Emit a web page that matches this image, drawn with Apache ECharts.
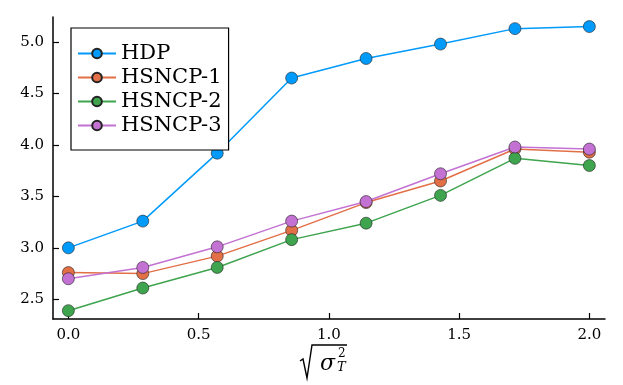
<!DOCTYPE html>
<html>
<head>
<meta charset="utf-8">
<script src="https://cdn.jsdelivr.net/npm/echarts@6/dist/echarts.min.js"></script>
<style>
  html, body { margin: 0; padding: 0; background: #fff; }
  #main { width: 623px; height: 385px; }
</style>
</head>
<body>
<div id="main"></div>
<script>
// x values: sqrt(sigma_T^2), 8 equally spaced points in [0, 2]
var xValues = [0, 0.2857, 0.5714, 0.8571, 1.1429, 1.4286, 1.7143, 2.0];
var hdp     = [3.00, 3.26, 3.92, 4.65, 4.84, 4.98, 5.13, 5.15];
var hsncp1  = [2.76, 2.75, 2.92, 3.17, 3.44, 3.65, 3.96, 3.93];
var hsncp2  = [2.39, 2.61, 2.81, 3.08, 3.24, 3.51, 3.87, 3.80];
var hsncp3  = [2.70, 2.81, 3.01, 3.26, 3.45, 3.72, 3.98, 3.96];
var xTicks = [0, 0.5, 1.0, 1.5, 2.0];
var yTicks = [2.5, 3.0, 3.5, 4.0, 4.5, 5.0];

var seriesNames = ['HDP', 'HSNCP-1', 'HSNCP-2', 'HSNCP-3'];
var seriesData = [hdp, hsncp1, hsncp2, hsncp3];
var colors = ['#009AFA', '#E36F47', '#3EA44E', '#C371D2'];

var serif = 'DejaVu Serif';

var chart = echarts.init(document.getElementById('main'), null, { renderer: 'canvas' });

var series = seriesNames.map(function (name, i) {
  return {
    name: name,
    type: 'line',
    data: xValues.map(function (x, j) { return [x, seriesData[i][j]]; }),
    symbol: 'circle',
    symbolSize: 12,
    showAllSymbol: true,
    lineStyle: { width: 1.5, color: colors[i] },
    itemStyle: { color: colors[i], borderColor: '#222', borderWidth: 0.6 },
    emphasis: { disabled: true },
    z: 2 + i
  };
});

var option = {
  animation: false,
  color: colors,
  grid: { left: 53, right: 18, top: 17, bottom: 66, containLabel: false },
  legend: {
    data: seriesNames,
    orient: 'vertical',
    left: 71,
    top: 28,
    padding: [15, 7, 14, 6],
    itemWidth: 38,
    itemHeight: 12,
    itemGap: 3,
    backgroundColor: '#fff',
    borderColor: '#000',
    borderWidth: 1.2,
    borderRadius: 0,
    textStyle: { fontFamily: serif, fontSize: 21, lineHeight: 21, color: '#000' },
    z: 100
  },
  xAxis: {
    type: 'value',
    min: -0.059,
    max: 2.06,
    splitLine: { show: false },
    axisLine: { onZero: false, lineStyle: { color: '#000', width: 1.5 } },
    axisTick: { inside: true, length: 6, lineStyle: { color: '#000', width: 1.2 }, customValues: xTicks },
    axisLabel: {
      customValues: xTicks,
      margin: 9,
      fontFamily: serif,
      fontSize: 15,
      color: '#000',
      formatter: function (v) { return v.toFixed(1); }
    }
  },
  yAxis: {
    type: 'value',
    min: 2.309,
    max: 5.243,
    splitLine: { show: false },
    axisLine: { show: true, onZero: false, lineStyle: { color: '#000', width: 1.5 } },
    axisTick: { show: true, inside: true, length: 6, lineStyle: { color: '#000', width: 1.2 }, customValues: yTicks },
    axisLabel: {
      customValues: yTicks,
      margin: 9,
      fontFamily: serif,
      fontSize: 15,
      color: '#000',
      formatter: function (v) { return v.toFixed(1); }
    }
  },
  graphic: [
    {
      type: 'polyline',
      shape: { points: [[300, 361], [303, 359], [307, 378], [312, 345], [347, 345]] },
      style: { stroke: '#000', lineWidth: 1.4, fill: null }
    },
    {
      type: 'text',
      x: 320, y: 364,
      style: { text: 'σ', font: 'italic 22px "DejaVu Serif"', fill: '#000', textAlign: 'left', textVerticalAlign: 'middle' }
    },
    {
      type: 'text',
      x: 338, y: 354,
      style: { text: '2', font: '12px "DejaVu Serif"', fill: '#000', textAlign: 'left', textVerticalAlign: 'middle' }
    },
    {
      type: 'text',
      x: 337, y: 368,
      style: { text: 'T', font: 'italic 13px "DejaVu Serif"', fill: '#000', textAlign: 'left', textVerticalAlign: 'middle' }
    }
  ],
  series: series
};

chart.setOption(option);
</script>
</body>
</html>
